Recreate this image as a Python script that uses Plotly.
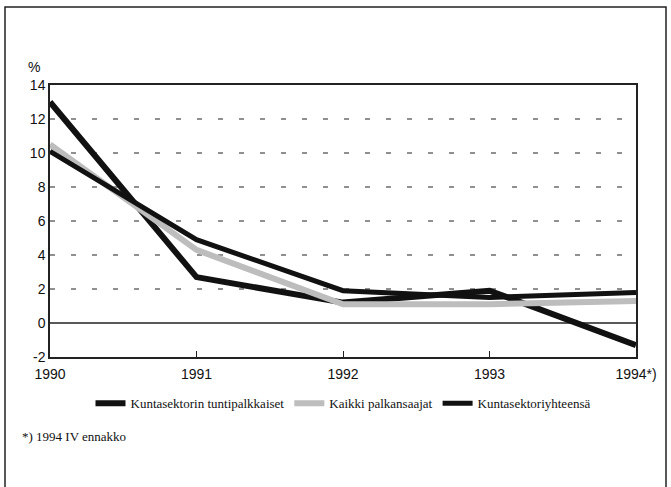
import plotly.graph_objects as go

years = [1990, 1991, 1992, 1993, 1994]
x_labels = ["1990", "1991", "1992", "1993", "1994*)"]
tuntipalkkaiset = [13.0, 2.7, 1.2, 1.9, -1.3]
kaikki = [10.5, 4.3, 1.1, 1.1, 1.3]
yhteensa = [10.1, 4.9, 1.9, 1.5, 1.8]
y_ticks = [-2, 0, 2, 4, 6, 8, 10, 12, 14]
y_labels = ["-2", "0", "2", "4", "6", "8", "10", "12", "14"]

fig = go.Figure()
fig.add_trace(go.Scatter(x=years, y=tuntipalkkaiset, mode="lines",
                         name="Kuntasektorin tuntipalkkaiset",
                         line=dict(color="#111111", width=6)))
fig.add_trace(go.Scatter(x=years, y=kaikki, mode="lines",
                         name="Kaikki palkansaajat",
                         line=dict(color="#bdbdbd", width=6)))
fig.add_trace(go.Scatter(x=years, y=yhteensa, mode="lines",
                         name="Kuntasektoriyhteensä",
                         line=dict(color="#111111", width=5)))

# dashed horizontal grid lines
for v in y_ticks:
    if v in (-2, 0, 14):
        continue
    fig.add_shape(type="line", xref="paper", yref="y", x0=0, x1=1, y0=v, y1=v,
                  line=dict(color="#222222", width=1.2, dash="5px,16px"), layer="below")
fig.add_shape(type="line", xref="paper", yref="y", x0=0, x1=1, y0=0, y1=0,
              line=dict(color="#222222", width=1.5), layer="below")

# outer frame
fig.add_shape(type="rect", xref="paper", yref="paper",
              x0=(5 - 50) / 586, x1=(666 - 50) / 586,
              y0=(357 - 490) / 272, y1=(357 - 7) / 272,
              line=dict(color="#222222", width=1.5))

fig.add_annotation(text="%", xref="paper", yref="paper",
                   x=(26 - 50) / 586, y=(357 - 67) / 272, xanchor="left", yanchor="middle",
                   showarrow=False, font=dict(family="Liberation Sans", size=14, color="#111"))
fig.add_annotation(text="*) 1994 IV ennakko", xref="paper", yref="paper",
                   x=(20 - 50) / 586, y=(357 - 436) / 272, xanchor="left", yanchor="middle",
                   showarrow=False, font=dict(family="Liberation Serif", size=13, color="#111"))

fig.update_layout(
    width=671, height=487,
    margin=dict(l=50, r=35, t=85, b=130),
    paper_bgcolor="white", plot_bgcolor="white",
    showlegend=True,
    legend=dict(orientation="h", x=0.5, xanchor="center", y=-0.115, yanchor="top",
                font=dict(family="Liberation Serif", size=13, color="#111"),
                itemwidth=30, tracegroupgap=0, bgcolor="rgba(0,0,0,0)"),
    xaxis=dict(range=[1990, 1994], tickvals=years, ticktext=x_labels,
               showgrid=False, zeroline=False, showline=True, mirror=True,
               linecolor="#222", linewidth=1.5, ticks="inside", ticklen=6,
               ticklabelstandoff=3,
               tickcolor="#222", tickfont=dict(family="Liberation Sans", size=14, color="#111")),
    yaxis=dict(range=[-2, 14], tickvals=y_ticks, ticktext=y_labels, showgrid=False, zeroline=False,
               showline=True, mirror=True, linecolor="#222", linewidth=1.5,
               ticks="", tickfont=dict(family="Liberation Sans", size=14, color="#111")),
)

fig.write_html("out.html", config={"displayModeBar": False},
               post_script="document.body.style.margin='0px';")
